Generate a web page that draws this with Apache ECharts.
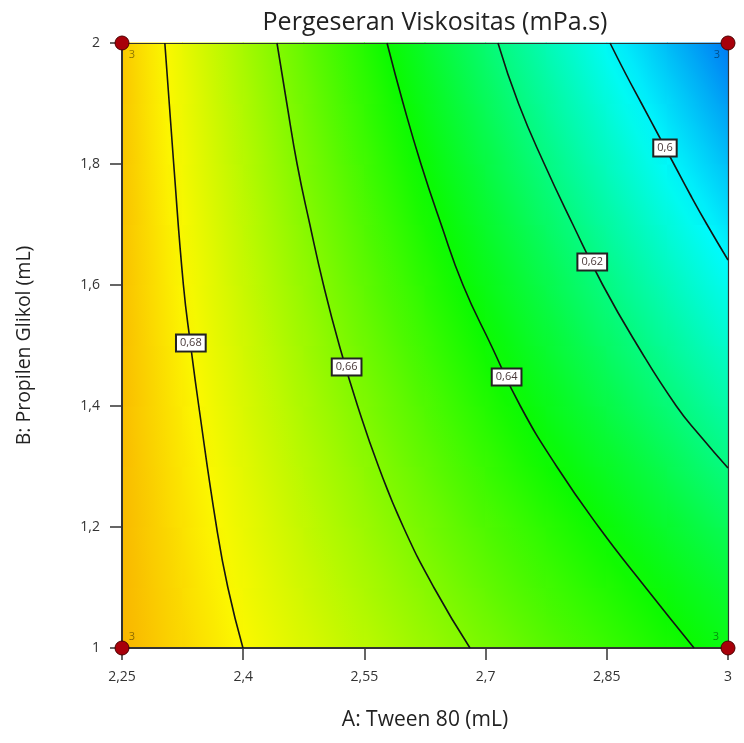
<!DOCTYPE html>
<html>
<head>
<meta charset="utf-8">
<script src="https://cdn.jsdelivr.net/npm/echarts@6/dist/echarts.min.js"></script>
<style>
  html, body { margin: 0; background: #fff; }
  #chart { width: 744px; height: 743px; }
</style>
</head>
<body>
<div id="chart"></div>
<script>
// axis ranges
const tweenRange = [2.25, 3];
const glikolRange = [1, 2];

// contour lines: [Tween 80, Propilen Glikol]
const contourLevels = [0.68, 0.66, 0.64, 0.62, 0.6];
const contour068 = [[2.303, 2.0], [2.314, 1.8], [2.326, 1.6], [2.335, 1.5], [2.345, 1.4], [2.367, 1.2], [2.381, 1.1], [2.3997, 1.0]];
const contour066 = [[2.4418, 2.0], [2.454, 1.9], [2.4667, 1.8], [2.4825, 1.7], [2.4994, 1.6], [2.519, 1.5], [2.5416, 1.4], [2.5675, 1.3], [2.5982, 1.2], [2.636, 1.1], [2.6807, 1.0]];
const contour064 = [[2.578, 2.0], [2.598, 1.9], [2.62, 1.8], [2.645, 1.7], [2.672, 1.6], [2.707, 1.5], [2.743, 1.4], [2.788, 1.3], [2.84, 1.2], [2.898, 1.1], [2.958, 1.0]];
const contour062 = [[2.7153, 2.0], [2.7407, 1.9], [2.7727, 1.8], [2.808, 1.7], [2.845, 1.6], [2.888, 1.5], [2.936, 1.4], [2.966, 1.35], [3.0, 1.2975]];
const contour060 = [[2.854, 2.0], [2.873, 1.95], [2.893, 1.9], [2.913, 1.85], [2.933, 1.8], [2.953, 1.75], [2.974, 1.7], [3.0, 1.6413]];
const contourLines = [contour068, contour066, contour064, contour062, contour060];
// where each level's label box sits
const labelSpots = [[2.3352, 1.504], [2.528, 1.4645], [2.726, 1.4479], [2.832, 1.638], [2.922, 1.8264]];

// design points at the corners and their replicate counts
const designPoints = [[2.25, 1], [2.25, 2], [3, 1], [3, 2]];
const replicates = [3, 3, 3, 3];

// estimated response at grid nodes (A every 0.075, B every 0.1, rows bottom to top)
const nodeA = [2.25, 2.325, 2.4, 2.475, 2.55, 2.625, 2.7, 2.775, 2.85, 2.925, 3.0];
const nodeB = [1.0, 1.1, 1.2, 1.3, 1.4, 1.5, 1.6, 1.7, 1.8, 1.9, 2.0];
const viscosityNodes = [
  [0.6907, 0.6853, 0.6799, 0.6746, 0.6692, 0.6638, 0.6584, 0.6530, 0.6477, 0.6423, 0.6369],
  [0.6904, 0.6845, 0.6785, 0.6726, 0.6667, 0.6607, 0.6548, 0.6489, 0.6438, 0.6379, 0.6320],
  [0.6901, 0.6836, 0.6771, 0.6706, 0.6641, 0.6577, 0.6512, 0.6455, 0.6390, 0.6326, 0.6262],
  [0.6898, 0.6828, 0.6757, 0.6687, 0.6617, 0.6546, 0.6476, 0.6405, 0.6342, 0.6272, 0.6194],
  [0.6895, 0.6819, 0.6743, 0.6667, 0.6592, 0.6516, 0.6440, 0.6364, 0.6288, 0.6213, 0.6136],
  [0.6892, 0.6811, 0.6729, 0.6648, 0.6566, 0.6485, 0.6404, 0.6322, 0.6241, 0.6159, 0.6078],
  [0.6889, 0.6802, 0.6715, 0.6628, 0.6541, 0.6454, 0.6367, 0.6281, 0.6194, 0.6107, 0.6020],
  [0.6886, 0.6794, 0.6701, 0.6609, 0.6516, 0.6424, 0.6331, 0.6239, 0.6147, 0.6054, 0.5962],
  [0.6883, 0.6785, 0.6687, 0.6589, 0.6491, 0.6393, 0.6295, 0.6197, 0.6099, 0.6001, 0.5903],
  [0.6880, 0.6777, 0.6673, 0.6570, 0.6466, 0.6363, 0.6259, 0.6156, 0.6052, 0.5949, 0.5845],
  [0.6877, 0.6768, 0.6659, 0.6550, 0.6441, 0.6332, 0.6223, 0.6114, 0.6005, 0.5896, 0.5787]
];

// colour ramp of the surface: blue (low) -> cyan -> green -> yellow -> red (high)
const rampValues = [0.56, 0.60, 0.64, 0.68, 0.72];
const rampColors = [[0, 10, 235], [0, 250, 252], [10, 250, 0], [252, 248, 0], [240, 0, 0]];

const FONT = 'Open Sans';
const comma = v => String(+Number(v).toFixed(2)).replace('.', ',');

function rampColor(v) {
  const n = rampValues.length;
  if (v <= rampValues[0]) return 'rgb(' + rampColors[0].join(',') + ')';
  if (v >= rampValues[n - 1]) return 'rgb(' + rampColors[n - 1].join(',') + ')';
  let k = 0;
  while (v > rampValues[k + 1]) k++;
  const t = (v - rampValues[k]) / (rampValues[k + 1] - rampValues[k]);
  const a = rampColors[k], b = rampColors[k + 1];
  return 'rgb(' + a.map((c, q) => Math.round(c + (b[q] - c) * t)).join(',') + ')';
}

// each cell is filled with a linear gradient along the local slope of the surface
function renderCell(params, api) {
  const i = api.value(2), j = api.value(3);
  const p0 = api.coord([nodeA[i], nodeB[j]]);
  const p1 = api.coord([nodeA[i + 1], nodeB[j + 1]]);
  const x = p0[0], y = p1[1], w = p1[0] - p0[0], h = p0[1] - p1[1];
  const v00 = viscosityNodes[j][i], v10 = viscosityNodes[j][i + 1];
  const v01 = viscosityNodes[j + 1][i], v11 = viscosityNodes[j + 1][i + 1];
  const gx = ((v10 - v00) + (v11 - v01)) / 2 / w;
  const gy = -((v01 - v00) + (v11 - v10)) / 2 / h;
  const g = Math.hypot(gx, gy) || 1e-9;
  const ux = gx / g, uy = gy / g;
  const L = (Math.abs(ux) * w + Math.abs(uy) * h) / 2;
  const cx = x + w / 2, cy = y + h / 2;
  const vc = (v00 + v10 + v01 + v11) / 4;
  const stops = [0, 0.25, 0.5, 0.75, 1].map(t => ({
    offset: t,
    color: rampColor(vc + g * L * (2 * t - 1))
  }));
  return {
    type: 'rect',
    shape: { x: x - 0.5, y: y - 0.5, width: w + 1, height: h + 1 },
    style: {
      fill: new echarts.graphic.LinearGradient(cx - ux * L, cy - uy * L, cx + ux * L, cy + uy * L, stops, true)
    },
    silent: true
  };
}

const cellData = [];
for (let j = 0; j < nodeB.length - 1; j++) {
  for (let i = 0; i < nodeA.length - 1; i++) {
    cellData.push([nodeA[i], nodeB[j], i, j]);
  }
}

const chart = echarts.init(document.getElementById('chart'));

const series = [{
  type: 'custom',
  renderItem: renderCell,
  data: cellData,
  encode: { x: 0, y: 1 },
  z: 1,
  silent: true
}];

contourLines.forEach((pts, k) => {
  series.push({
    name: 'contour ' + contourLevels[k],
    type: 'line',
    data: pts,
    smooth: 0.5,
    showSymbol: false,
    symbol: 'none',
    lineStyle: { color: '#141414', width: 1.6 },
    z: 4,
    silent: true
  });
});

series.push({
  type: 'scatter',
  data: labelSpots.map((p, k) => [p[0], p[1], comma(contourLevels[k])]),
  symbolSize: 2,
  itemStyle: { color: 'rgba(0,0,0,0)', opacity: 1 },
  label: {
    show: true,
    position: 'inside',
    formatter: p => p.value[2],
    fontFamily: FONT,
    fontSize: 11,
    color: '#4a3a3a',
    backgroundColor: '#fff',
    borderColor: '#222',
    borderWidth: 2,
    padding: [3, 3, 1, 3]
  },
  z: 5,
  silent: true
});

const labelOffsets = [[10, -11], [10, 12], [-12, -11], [-11, 12]];
series.push({
  type: 'scatter',
  clip: false,
  data: designPoints.map((p, k) => ({
    value: [p[0], p[1], replicates[k]],
    label: { offset: labelOffsets[k] }
  })),
  symbolSize: 14,
  itemStyle: { color: '#a8000a', borderColor: '#4a0000', borderWidth: 1, opacity: 1 },
  label: {
    show: true,
    position: 'inside',
    formatter: p => String(p.value[2]),
    fontFamily: FONT,
    fontSize: 11,
    color: 'rgba(0,0,0,0.45)'
  },
  z: 6,
  silent: true
});

const option = {
  animation: false,
  title: {
    text: 'Pergeseran Viskositas (mPa.s)',
    left: 430,
    top: 5,
    textAlign: 'center',
    textStyle: { fontFamily: FONT, fontSize: 25, fontWeight: 'normal', color: '#222' }
  },
  grid: { left: 122, right: 16, top: 43, bottom: 95 },
  xAxis: [{
    type: 'value',
    min: tweenRange[0],
    max: tweenRange[1],
    interval: 0.15,
    z: 3,
    name: 'A: Tween 80 (mL)',
    nameLocation: 'middle',
    nameGap: 62,
    nameTextStyle: { fontFamily: FONT, fontSize: 21, color: '#222' },
    axisLine: { lineStyle: { color: '#333', width: 2 } },
    axisTick: { length: 12, lineStyle: { color: '#333', width: 1.5 } },
    axisLabel: { margin: 22, fontFamily: FONT, fontSize: 14, color: '#333', formatter: comma },
    splitLine: { show: false }
  }, {
    type: 'value',
    position: 'top',
    min: tweenRange[0],
    max: tweenRange[1],
    z: 3,
    axisLine: { lineStyle: { color: '#333', width: 1.2 } },
    axisTick: { show: false },
    axisLabel: { show: false },
    splitLine: { show: false }
  }],
  yAxis: [{
    type: 'value',
    min: glikolRange[0],
    max: glikolRange[1],
    interval: 0.2,
    z: 3,
    name: 'B: Propilen Glikol (mL)',
    nameLocation: 'middle',
    nameGap: 88,
    nameTextStyle: { fontFamily: FONT, fontSize: 19.5, color: '#222' },
    axisLine: { lineStyle: { color: '#333', width: 2 } },
    axisTick: { length: 12, lineStyle: { color: '#333', width: 1.5 } },
    axisLabel: { margin: 22, fontFamily: FONT, fontSize: 14, color: '#333', formatter: comma },
    splitLine: { show: false }
  }, {
    type: 'value',
    position: 'right',
    min: glikolRange[0],
    max: glikolRange[1],
    z: 3,
    axisLine: { lineStyle: { color: '#333', width: 1.2 } },
    axisTick: { show: false },
    axisLabel: { show: false },
    splitLine: { show: false }
  }],
  series: series
};

chart.setOption(option);
</script>
</body>
</html>
